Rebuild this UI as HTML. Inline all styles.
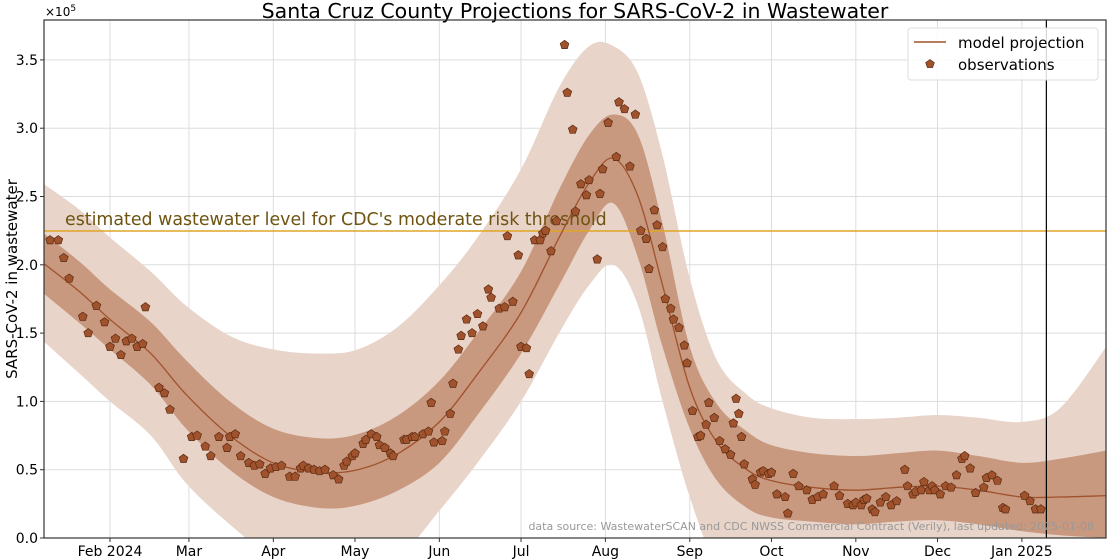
<!DOCTYPE html>
<html><head><meta charset="utf-8"><style>
html,body{margin:0;padding:0;background:#fff;}
svg{display:block;font-family:"DejaVu Sans","Liberation Sans",sans-serif;}
</style></head><body>
<svg id="chart" width="1110" height="560" viewBox="0 0 1110 560" xmlns="http://www.w3.org/2000/svg">
<defs><clipPath id="clip"><rect x="44" y="20" width="1062" height="518"/></clipPath></defs>
<text x="575" y="18" font-size="20.5" text-anchor="middle" fill="#000">Santa Cruz County Projections for SARS-CoV-2 in Wastewater</text>
<text transform="translate(17,279) rotate(-90)" font-size="15" text-anchor="middle">SARS-CoV-2 in wastewater</text>
<text x="45" y="16" font-size="12">×10<tspan dy="-5" font-size="9">5</tspan></text>
<g id="grid"></g>
<g id="bands" clip-path="url(#clip)"></g>
<line x1="44" x2="1106" y1="231" y2="231" stroke="#e0a526" stroke-width="1.5"/>
<text x="65" y="225" font-size="17.4" fill="#6e5410">estimated wastewater level for CDC's moderate risk threshold</text>
<g id="marks" clip-path="url(#clip)"></g>
<g id="axes"></g>
<text x="1094" y="530" font-size="11" text-anchor="end" fill="#999">data source: WastewaterSCAN and CDC NWSS Commercial Contract (Verily), last updated: 2025-01-08</text>
<g>
<rect x="908" y="28" width="190" height="52" rx="3" fill="#fff" fill-opacity="0.85" stroke="#ddd"/>
<line x1="914" x2="946" y1="42" y2="42" stroke="#a0522d" stroke-width="1.5"/>
<text x="958" y="48" font-size="15">model projection</text>
<polygon points="930,59.5 934.3,62.6 932.6,67.5 927.4,67.5 925.7,62.6" fill="#a0522d" stroke="#5a2a10" stroke-width="0.7"/>
<text x="958" y="70" font-size="15">observations</text>
</g>
</svg>
<script>
const bandDays=[6,20,31,46,59,75,91,108,122,137,152,166,182,196,207,216,225,234,244,254,265,274,289,305,320,335,350,366,380,397];
const modelVals=[2.02,1.8,1.6,1.35,1.05,0.75,0.55,0.48,0.5,0.62,0.85,1.2,1.65,2.2,2.6,2.78,2.5,1.85,1.1,0.7,0.5,0.42,0.37,0.35,0.37,0.38,0.35,0.3,0.3,0.31];
const innerUpper=[2.24,2.02,1.82,1.58,1.3,1.0,0.8,0.73,0.76,0.9,1.15,1.5,1.95,2.55,2.95,3.1,2.95,2.3,1.4,0.98,0.78,0.68,0.62,0.6,0.62,0.64,0.6,0.55,0.58,0.64];
const innerLower=[1.8,1.57,1.38,1.12,0.8,0.5,0.3,0.22,0.24,0.35,0.55,0.9,1.35,1.85,2.25,2.45,2.05,1.4,0.8,0.42,0.22,0.15,0.12,0.1,0.12,0.13,0.1,0.05,0.02,0.0];
const outerUpper=[2.6,2.4,2.2,1.95,1.7,1.48,1.38,1.35,1.38,1.55,1.85,2.2,2.7,3.3,3.6,3.6,3.4,2.8,1.9,1.3,1.05,0.95,0.88,0.87,0.88,0.9,0.88,0.85,0.95,1.4];
const outerLower=[1.45,1.2,1.0,0.75,0.4,0.1,-0.15,-0.3,-0.3,-0.15,0.2,0.55,1.0,1.5,1.85,2.0,1.7,1.0,0.3,-0.2,-0.3,-0.3,-0.3,-0.3,-0.3,-0.3,-0.3,-0.3,-0.3,-0.3];
const obsDays=[9,12,14,16,21,23,26,29,31,33,35,37,39,41,43,44,49,51,53,58,61,63,66,68,71,74,75,77,79,82,84,86,88,90,92,94,97,99,101,102,104,106,108,110,113,115,117,118,120,121,124,125,127,129,130,132,134,135,139,140,142,143,146,148,149,150,153,154,156,157,159,160,162,164,166,168,170,171,174,176,177,179,181,182,184,185,187,189,190,191,193,195,198,199,201,202,204,206,207,210,211,212,214,217,218,220,222,224,226,228,229,231,232,234,235,237,238,240,242,243,245,247,248,250,251,253,255,257,259,260,261,262,263,264,267,268,270,271,273,274,276,279,280,282,284,287,289,291,293,297,299,302,304,305,307,308,309,311,312,314,316,318,320,323,324,326,327,329,330,332,333,334,336,338,340,342,344,345,347,349,352,353,355,357,359,360,367,369,371,373];
const obsVals=[2.18,2.18,2.05,1.90,1.62,1.50,1.70,1.58,1.40,1.46,1.34,1.44,1.46,1.40,1.42,1.69,1.10,1.06,0.94,0.58,0.74,0.75,0.67,0.60,0.74,0.66,0.74,0.76,0.60,0.55,0.53,0.54,0.47,0.51,0.52,0.53,0.45,0.45,0.51,0.53,0.51,0.50,0.49,0.50,0.46,0.43,0.53,0.56,0.60,0.62,0.69,0.72,0.76,0.74,0.68,0.66,0.62,0.60,0.72,0.72,0.74,0.74,0.76,0.78,0.99,0.70,0.71,0.78,0.91,1.13,1.38,1.48,1.60,1.50,1.64,1.55,1.82,1.76,1.68,1.69,2.21,1.73,2.07,1.40,1.39,1.20,2.18,2.18,2.23,2.25,2.10,2.32,3.61,3.26,2.99,2.39,2.59,2.51,2.62,2.04,2.52,2.70,3.04,2.79,3.19,3.14,2.72,3.10,2.25,2.19,1.97,2.40,2.29,2.13,1.75,1.68,1.60,1.54,1.41,1.28,0.93,0.74,0.75,0.83,0.99,0.88,0.71,0.65,0.61,0.84,1.02,0.91,0.74,0.54,0.43,0.39,0.48,0.49,0.47,0.48,0.32,0.30,0.18,0.47,0.38,0.35,0.28,0.30,0.32,0.38,0.31,0.25,0.24,0.26,0.24,0.28,0.29,0.21,0.19,0.26,0.30,0.24,0.27,0.50,0.38,0.32,0.34,0.35,0.41,0.35,0.38,0.35,0.32,0.38,0.37,0.46,0.58,0.60,0.51,0.33,0.37,0.44,0.46,0.42,0.22,0.21,0.31,0.27,0.21,0.21];
const xTickDays=[31,60,91,121,152,182,213,244,274,305,335,366];
const xTickLabels=["Feb 2024","Mar","Apr","May","Jun","Jul","Aug","Sep","Oct","Nov","Dec","Jan 2025"];
const yTicks=[0,0.5,1.0,1.5,2.0,2.5,3.0,3.5];
const nowDay=375;

const NS="http://www.w3.org/2000/svg";
const X=d=>110+(d-31)*2.722;
const Y=v=>538-v*136.6;
function mk(tag,attrs,parent){const e=document.createElementNS(NS,tag);for(const k in attrs)e.setAttribute(k,attrs[k]);parent.appendChild(e);return e;}
const grid=document.getElementById('grid'),bands=document.getElementById('bands'),marks=document.getElementById('marks'),axes=document.getElementById('axes');
xTickDays.forEach((d,i)=>{
  const gl=mk('line',{x1:X(d),x2:X(d),y1:20,y2:538,stroke:'#ddd','stroke-width':1},grid);
  
  
  const tk=mk('line',{x1:X(d),x2:X(d),y1:538,y2:542,stroke:'#333'},axes);
  
  
  const t=mk('text',{x:X(d),y:556,'font-size':14,'text-anchor':'middle'},axes);
  t.textContent=xTickLabels[i];
  
  
});
yTicks.forEach(v=>{
  const gl=mk('line',{x1:44,x2:1106,y1:Y(v),y2:Y(v),stroke:'#ddd','stroke-width':1},grid);
  
  
  const tk=mk('line',{x1:40,x2:44,y1:Y(v),y2:Y(v),stroke:'#333'},axes);
  
  
  const t=mk('text',{x:38,y:Y(v)+5,'font-size':14,'text-anchor':'end'},axes);
  t.textContent=v.toFixed(1);
  
  
});
function smoothSeg(xs,ys){let p='';for(let i=0;i<xs.length-1;i++){const x0=xs[Math.max(i-1,0)],y0=ys[Math.max(i-1,0)],x1=xs[i],y1=ys[i],x2=xs[i+1],y2=ys[i+1],x3=xs[Math.min(i+2,xs.length-1)],y3=ys[Math.min(i+2,xs.length-1)];p+=`C${x1+(x2-x0)/6},${y1+(y2-y0)/6} ${x2-(x3-x1)/6},${y2-(y3-y1)/6} ${x2},${y2}`;}return p;}
function smooth(xs,ys){return 'M'+xs[0]+','+ys[0]+smoothSeg(xs,ys);}
function band(up,lo,fill,name){
  const xs=bandDays.map(X);
  const xr=xs.slice().reverse(), lr=lo.map(Y).reverse();
  let p=smooth(xs,up.map(Y))+'L'+xr[0]+','+lr[0]+smoothSeg(xr,lr)+'Z';
  const e=mk('path',{d:p,fill:fill},bands);
  
  
}
band(outerUpper,outerLower,'#e8d4c9','outer-uncertainty-band');
band(innerUpper,innerLower,'#c8987f','inner-uncertainty-band');
const ml=mk('path',{d:smooth(bandDays.map(X),modelVals.map(Y)),fill:'none',stroke:'#a0522d','stroke-width':1.3},marks);


obsDays.forEach((d,i)=>{
  const cx=X(d),cy=Y(obsVals[i]),r=4.6;let pts=[];
  for(let k=0;k<5;k++){const a=-Math.PI/2+k*2*Math.PI/5;pts.push((cx+r*Math.cos(a)).toFixed(1)+','+(cy+r*Math.sin(a)).toFixed(1));}
  const e=mk('polygon',{points:pts.join(' '),fill:'#a0522d',stroke:'#5a2a10','stroke-width':0.7},marks);
  
  
});
const nl=mk('line',{x1:X(nowDay),x2:X(nowDay),y1:20,y2:538,stroke:'#000','stroke-width':1.2},axes);


const fr=mk('rect',{x:44,y:20,width:1062,height:518,fill:'none',stroke:'#333','stroke-width':1.2},axes);


</script>
</body></html>
